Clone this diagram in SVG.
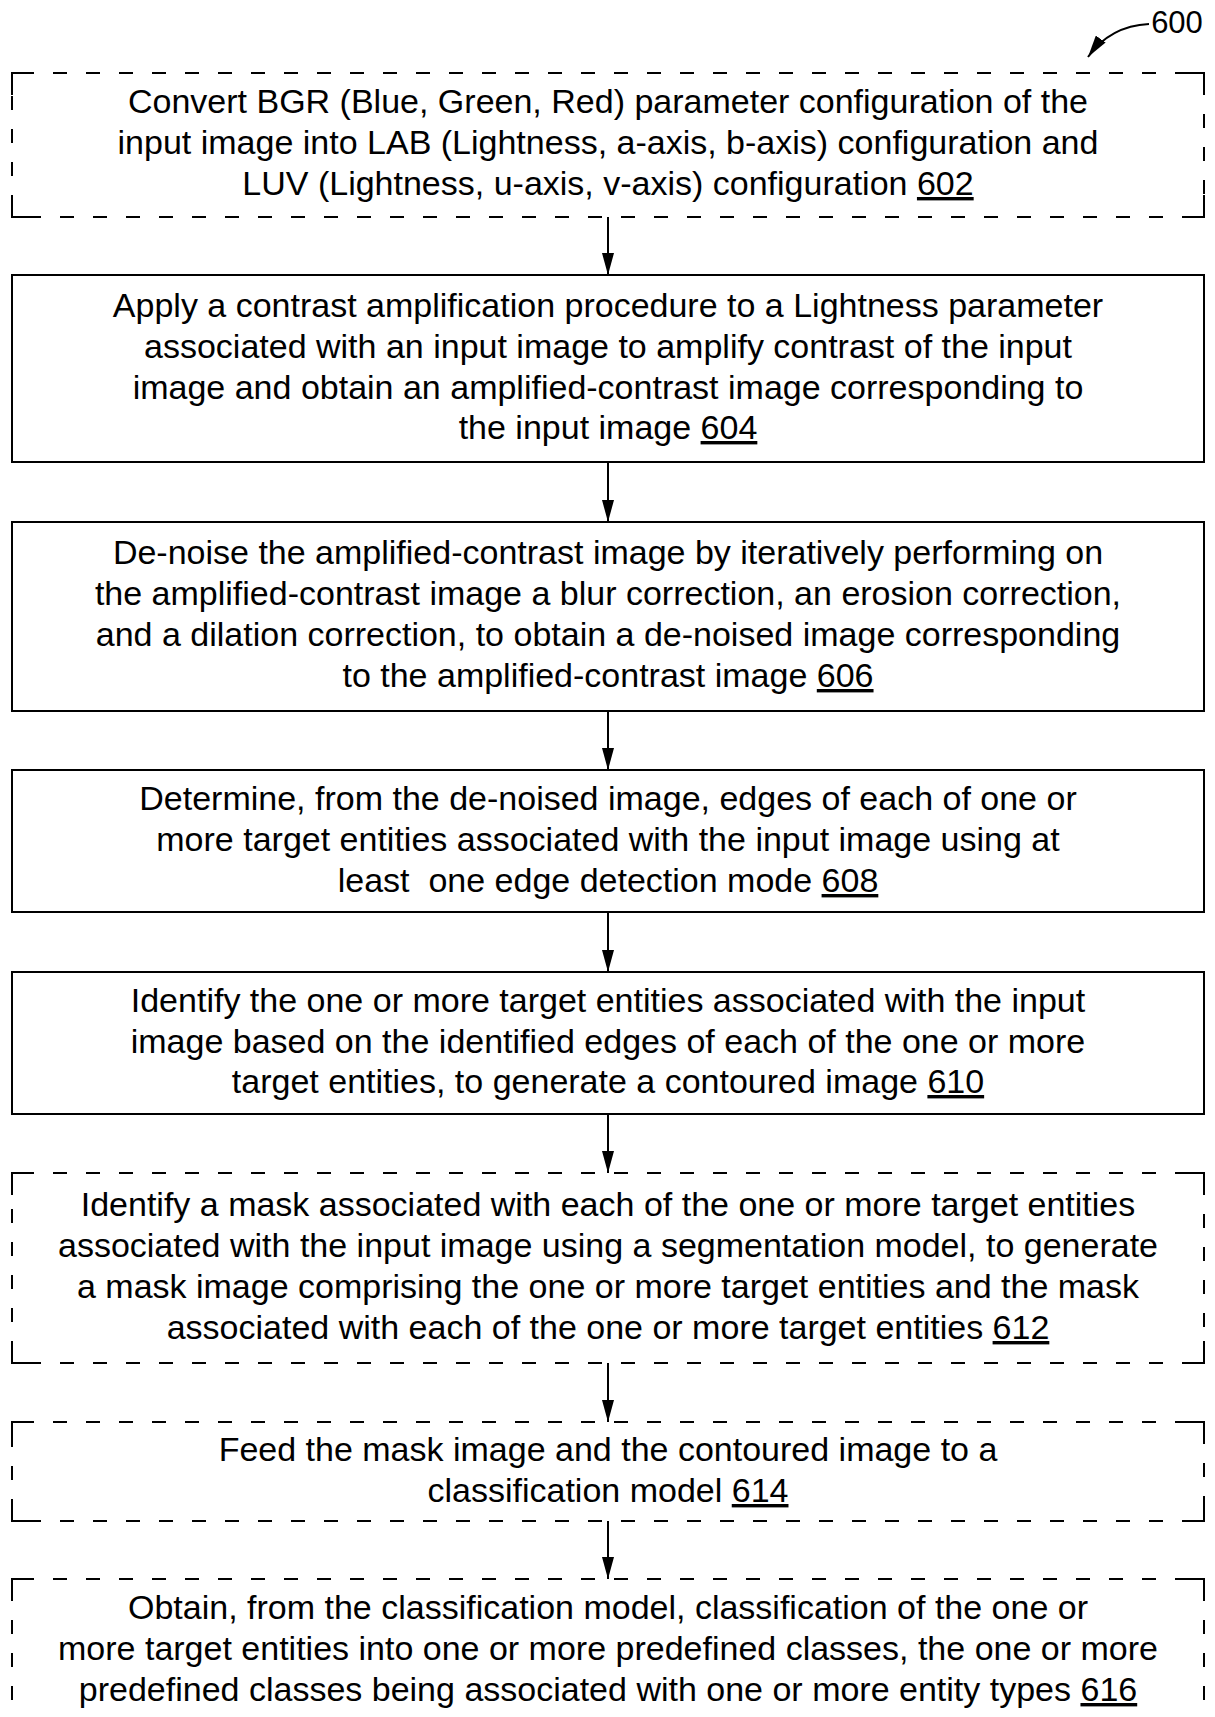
<svg xmlns="http://www.w3.org/2000/svg" width="1215" height="1717" viewBox="0 0 1215 1717">
<style>
.box{fill:#fff;stroke:#000;stroke-width:2}
.dash{fill:none;stroke:#000;stroke-width:2;stroke-dasharray:14 19;stroke-dashoffset:25}
.corner{fill:none;stroke:#000;stroke-width:2}
.t{font-family:"Liberation Sans",Arial,sans-serif;font-size:34px;fill:#000;text-anchor:middle}
.u{text-decoration:underline}
.c{stroke:#000;stroke-width:2;fill:none}
</style>
<defs>
<marker id="ah" viewBox="0 0 22 12" refX="22" refY="6" markerWidth="22" markerHeight="12" markerUnits="userSpaceOnUse" orient="auto">
<path d="M0,0 L22,6 L0,12 Z" fill="#000"/>
</marker>
</defs>
<rect width="1215" height="1717" fill="#fff"/>
<g id="label600">
<text class="t" x="1177" y="33" style="font-size:31px">600</text>
<path class="c" d="M1149,24 Q1110,26 1088,57" marker-end="url(#ah)"/>
</g>
<g id="n602">
<path class="dash" d="M12,73 H1204 M1204,73 V217 M1204,217 H12 M12,217 V73"/>
<path class="corner" d="M12,95 V73 H34 M1182,73 H1204 V95 M1204,195 V217 H1182 M34,217 H12 V195"/>
<text class="t" x="608" y="113">Convert BGR (Blue, Green, Red) parameter configuration of the</text>
<text class="t" x="608" y="154">input image into LAB (Lightness, a-axis, b-axis) configuration and</text>
<text class="t" x="608" y="195">LUV (Lightness, u-axis, v-axis) configuration <tspan class="u">602</tspan></text>
</g>
<g id="n604">
<rect class="box" x="12" y="275" width="1192" height="187"/>
<text class="t" x="608" y="317">Apply a contrast amplification procedure to a Lightness parameter</text>
<text class="t" x="608" y="358">associated with an input image to amplify contrast of the input</text>
<text class="t" x="608" y="399">image and obtain an amplified-contrast image corresponding to</text>
<text class="t" x="608" y="439">the input image <tspan class="u">604</tspan></text>
</g>
<g id="n606">
<rect class="box" x="12" y="522" width="1192" height="189"/>
<text class="t" x="608" y="564">De-noise the amplified-contrast image by iteratively performing on</text>
<text class="t" x="608" y="605">the amplified-contrast image a blur correction, an erosion correction,</text>
<text class="t" x="608" y="646">and a dilation correction, to obtain a de-noised image corresponding</text>
<text class="t" x="608" y="687">to the amplified-contrast image <tspan class="u">606</tspan></text>
</g>
<g id="n608">
<rect class="box" x="12" y="770" width="1192" height="142"/>
<text class="t" x="608" y="810">Determine, from the de-noised image, edges of each of one or</text>
<text class="t" x="608" y="851">more target entities associated with the input image using at</text>
<text class="t" x="608" y="892" xml:space="preserve">least  one edge detection mode <tspan class="u">608</tspan></text>
</g>
<g id="n610">
<rect class="box" x="12" y="972" width="1192" height="142"/>
<text class="t" x="608" y="1012">Identify the one or more target entities associated with the input</text>
<text class="t" x="608" y="1053">image based on the identified edges of each of the one or more</text>
<text class="t" x="608" y="1093">target entities, to generate a contoured image <tspan class="u">610</tspan></text>
</g>
<g id="n612">
<path class="dash" d="M12,1173 H1204 M1204,1173 V1363 M1204,1363 H12 M12,1363 V1173"/>
<path class="corner" d="M12,1195 V1173 H34 M1182,1173 H1204 V1195 M1204,1341 V1363 H1182 M34,1363 H12 V1341"/>
<text class="t" x="608" y="1216">Identify a mask associated with each of the one or more target entities</text>
<text class="t" x="608" y="1257">associated with the input image using a segmentation model, to generate</text>
<text class="t" x="608" y="1298">a mask image comprising the one or more target entities and the mask</text>
<text class="t" x="608" y="1339">associated with each of the one or more target entities <tspan class="u">612</tspan></text>
</g>
<g id="n614">
<path class="dash" d="M12,1422 H1204 M1204,1422 V1521 M1204,1521 H12 M12,1521 V1422"/>
<path class="corner" d="M12,1444 V1422 H34 M1182,1422 H1204 V1444 M1204,1499 V1521 H1182 M34,1521 H12 V1499"/>
<text class="t" x="608" y="1461">Feed the mask image and the contoured image to a</text>
<text class="t" x="608" y="1502">classification model <tspan class="u">614</tspan></text>
</g>
<g id="n616">
<path class="dash" d="M12,1579 H1204 M1204,1579 V1730 M12,1579 V1730"/>
<path class="corner" d="M12,1601 V1579 H34 M1182,1579 H1204 V1601"/>
<text class="t" x="608" y="1619">Obtain, from the classification model, classification of the one or</text>
<text class="t" x="608" y="1660">more target entities into one or more predefined classes, the one or more</text>
<text class="t" x="608" y="1701">predefined classes being associated with one or more entity types <tspan class="u">616</tspan></text>
</g>
<g id="connectors">
<line class="c" x1="608" y1="217" x2="608" y2="275" marker-end="url(#ah)"/>
<line class="c" x1="608" y1="462" x2="608" y2="522" marker-end="url(#ah)"/>
<line class="c" x1="608" y1="711" x2="608" y2="770" marker-end="url(#ah)"/>
<line class="c" x1="608" y1="912" x2="608" y2="972" marker-end="url(#ah)"/>
<line class="c" x1="608" y1="1114" x2="608" y2="1173" marker-end="url(#ah)"/>
<line class="c" x1="608" y1="1363" x2="608" y2="1422" marker-end="url(#ah)"/>
<line class="c" x1="608" y1="1521" x2="608" y2="1579" marker-end="url(#ah)"/>
</g>
</svg>
